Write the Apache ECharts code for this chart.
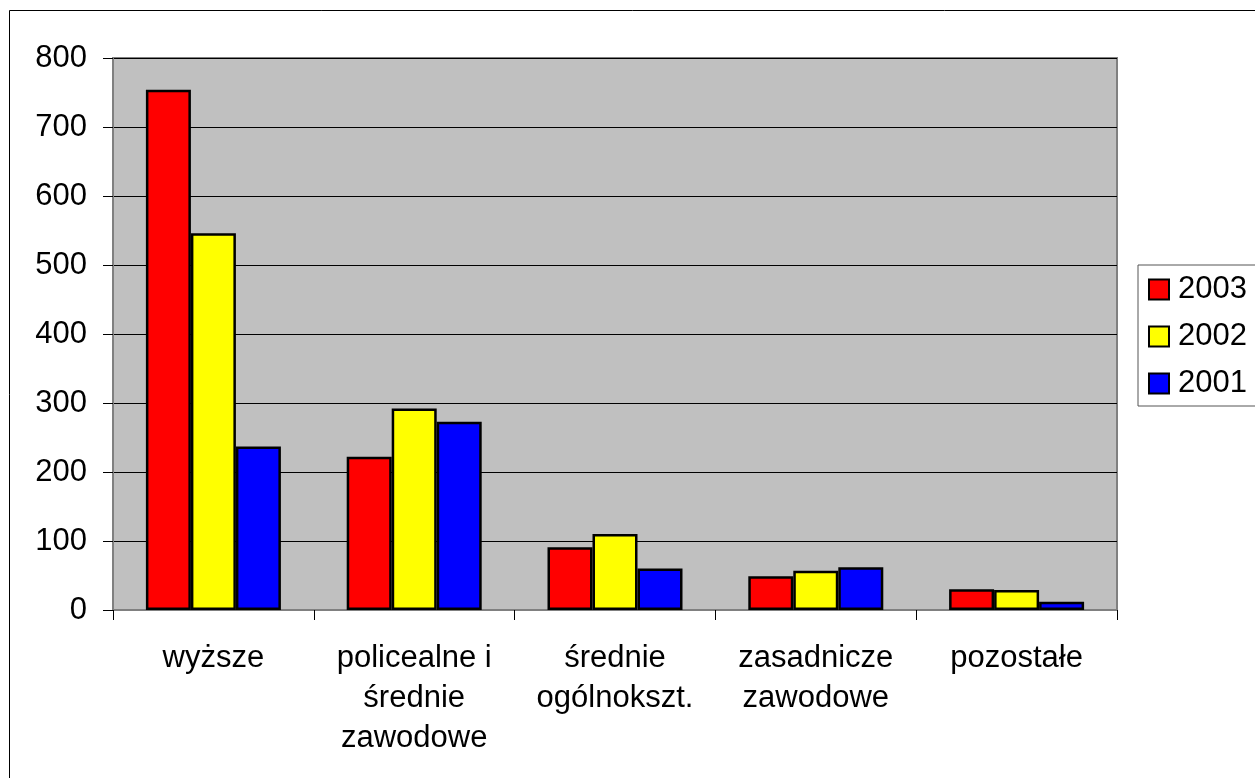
<!DOCTYPE html>
<html>
<head>
<meta charset="utf-8">
<script src="https://cdn.jsdelivr.net/npm/echarts@6/dist/echarts.min.js"></script>
<style>
html,body{margin:0;padding:0;background:#fff;}
#chart{width:1255px;height:778px;}
</style>
</head>
<body>
<div id="chart"></div>
<script>
const categories = ['wyższe', 'policealne i\nśrednie\nzawodowe', 'średnie\nogólnokszt.', 'zasadnicze\nzawodowe', 'pozostałe'];
const seriesNames = ['2003', '2002', '2001'];
const values2003 = [754, 222, 91, 49, 30];
const values2002 = [546, 292, 110, 57, 29];
const values2001 = [237, 273, 60, 62, 12];
const colors = ['#FF0000', '#FFFF00', '#0000FF'];
const yTicks = { min: 0, max: 800, interval: 100 };

const FONT = "'Liberation Sans', Arial, sans-serif";
const chart = echarts.init(document.getElementById('chart'), null, { renderer: 'canvas' });

const seriesData = [values2003, values2002, values2001];

chart.setOption({
  backgroundColor: '#ffffff',
  animation: false,
  textStyle: { fontFamily: FONT, color: '#000' },
  graphic: [{
    type: 'rect',
    shape: { x: 9.5, y: 10.5, width: 1300, height: 800 },
    style: { fill: 'none', stroke: '#000', lineWidth: 1 },
    silent: true,
    z: -10
  }],
  grid: {
    left: 113, right: 138, top: 58, bottom: 168,
    show: true, backgroundColor: '#C0C0C0', borderColor: '#808080', borderWidth: 2
  },
  legend: {
    orient: 'vertical',
    left: 1138, top: 265,
    padding: [9, 20, 7, 10],
    icon: 'rect',
    itemWidth: 20, itemHeight: 20, itemGap: 16,
    borderColor: '#555', borderWidth: 1,
    backgroundColor: '#fff',
    data: seriesNames,
    textStyle: { fontFamily: FONT, fontSize: 31, color: '#000', lineHeight: 30, padding: [0, 0, 0, 4] },
    itemStyle: { borderColor: '#000', borderWidth: 2 }
  },
  xAxis: {
    type: 'category',
    data: categories,
    axisLine: { show: true, lineStyle: { color: '#808080', width: 2 } },
    axisTick: { show: true, length: 10, lineStyle: { color: '#000', width: 1 } },
    axisLabel: { interval: 0, margin: 28, fontFamily: FONT, fontSize: 31, lineHeight: 40, color: '#000', align: 'center' },
    splitLine: { show: false }
  },
  yAxis: {
    type: 'value',
    min: yTicks.min, max: yTicks.max, interval: yTicks.interval,
    axisLine: { show: true, lineStyle: { color: '#808080', width: 2 } },
    axisTick: { show: true, length: 10, lineStyle: { color: '#000', width: 1 } },
    axisLabel: { margin: 26, fontFamily: FONT, fontSize: 31, color: '#000' },
    splitLine: { show: true, lineStyle: { color: '#000', width: 1 } }
  },
  series: seriesNames.map((name, i) => ({
    name: name,
    type: 'bar',
    data: seriesData[i],
    barWidth: 45,
    barGap: '0%',
    itemStyle: { color: colors[i], borderColor: '#000', borderWidth: 2.5 }
  }))
});
</script>
</body>
</html>
